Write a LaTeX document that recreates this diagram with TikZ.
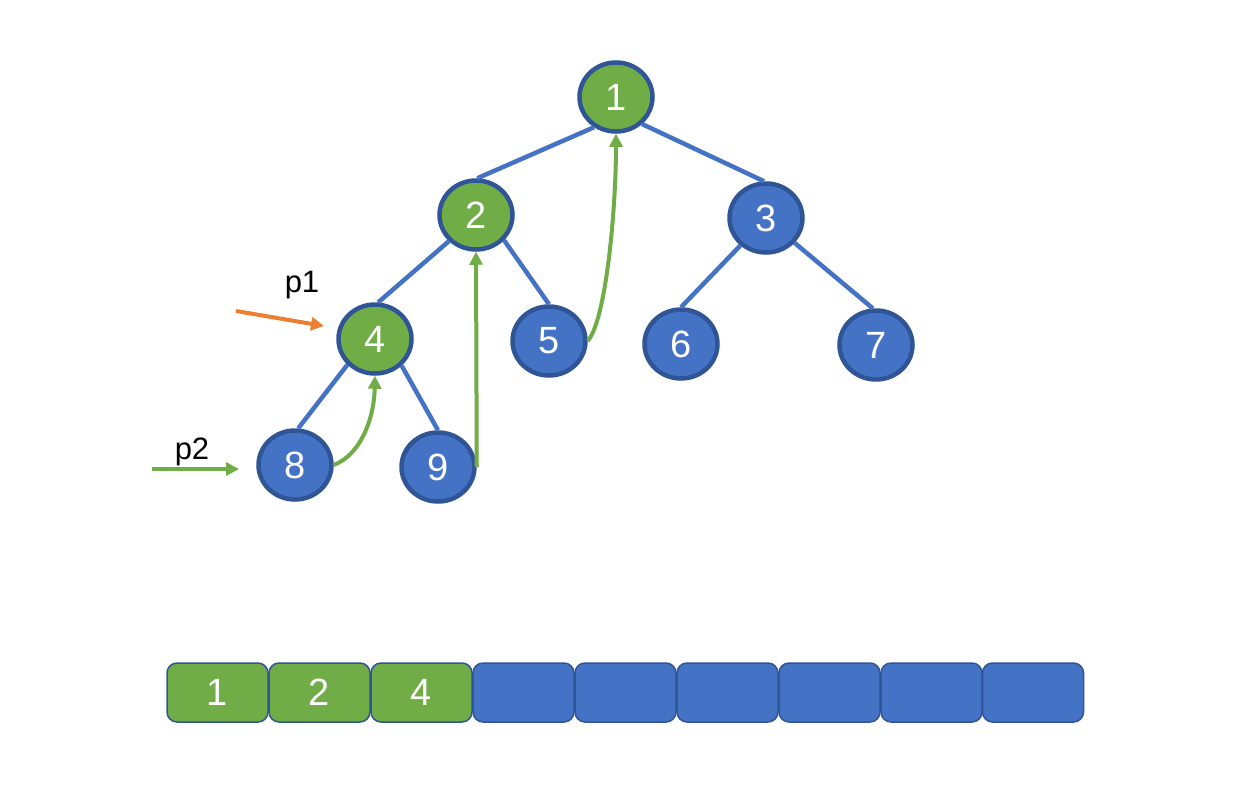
\documentclass[tikz,border=0pt]{standalone}
\usepackage{fontspec}
\setmainfont{Liberation Sans}
\usetikzlibrary{arrows.meta,shapes.geometric}
\definecolor{cgreen}{HTML}{70AD47}
\definecolor{cblue}{HTML}{4472C4}
\definecolor{cdark}{HTML}{2F5597}
\definecolor{corange}{HTML}{ED7D31}
\begin{document}
\begin{tikzpicture}[x=1pt,y=-1pt,
  tn/.style={ellipse,draw=cdark,line width=4.5pt,minimum width=73pt,minimum height=69pt,inner sep=0pt,text=white,font=\fontsize{38}{38}\selectfont},
  gn/.style={tn,fill=cgreen},
  bn/.style={tn,fill=cblue},
  edge/.style={draw=cblue,line width=4.5pt},
  garrow/.style={draw=cgreen,line width=4pt,-{Triangle[length=13pt,width=13pt]}},
  oarrow/.style={draw=corange,line width=4pt,-{Triangle[length=13pt,width=13pt]}},
  cell/.style={draw=cdark,line width=1.5pt,rounded corners=10pt,minimum width=101pt,minimum height=59pt,inner sep=0pt,text=white,font=\fontsize{38}{38}\selectfont},
  lbl/.style={font=\fontsize{31}{31}\selectfont,text=black,inner sep=0pt}]
\useasboundingbox (0,0) rectangle (1253,811);
\coordinate (c1) at (616,97);
\coordinate (c2) at (476,215);
\coordinate (c3) at (766,218);
\coordinate (c4) at (375,339);
\coordinate (c5) at (549,341);
\coordinate (c6) at (681,344);
\coordinate (c7) at (876,345);
\coordinate (c8) at (295,465);
\coordinate (c9) at (438,467);
\node[gn] (n1) at (c1) {1};
\node[gn] (n2) at (c2) {2};
\node[bn] (n3) at (c3) {3};
\node[gn] (n4) at (c4) {4};
\node[bn] (n5) at (c5) {5};
\node[bn] (n6) at (c6) {6};
\node[bn] (n7) at (c7) {7};
\node[bn] (n8) at (c8) {8};
\node[bn] (n9) at (c9) {9};
\path[edge] (n1.234) -- (n2.88);
\path[edge] (n1.314) -- (n3.93);
\path[edge] (n2.224) -- (n4.85);
\path[edge] (n2.318) -- (n5.90);
\path[edge] (n3.227) -- (n6.90);
\path[edge] (n3.319) -- (n7.95);
\path[edge] (n4.223) -- (n8.85);
\path[edge] (n4.315) -- (n9.90);
% green arrows
\draw[garrow] (n8.east) .. controls (360,455) and (374,420) .. (n4.south);
\draw[garrow] (n9.east) -- (n2.south);
\draw[garrow] (n5.east) .. controls (606,320) and (616,210) .. (n1.south);
% pointers
\coordinate (p1s) at (236,311);
\coordinate (p1e) at (324,326);
\coordinate (p2s) at (152,469);
\coordinate (p2e) at (239,469);
\draw[oarrow] (p1s) -- (p1e);
\draw[garrow] (p2s) -- (p2e);
\node[lbl] (p1) at (302,285) {p1};
\node[lbl] (p2) at (192,452) {p2};
% array
\node[cell,fill=cgreen] (b1) at (217.5,692.5) {1};
\node[cell,fill=cgreen] (b2) at (319.5,692.5) {2};
\node[cell,fill=cgreen] (b3) at (421.5,692.5) {4};
\node[cell,fill=cblue] (b4) at (523.5,692.5) {};
\node[cell,fill=cblue] (b5) at (625.5,692.5) {};
\node[cell,fill=cblue] (b6) at (727.5,692.5) {};
\node[cell,fill=cblue] (b7) at (829.5,692.5) {};
\node[cell,fill=cblue] (b8) at (931.5,692.5) {};
\node[cell,fill=cblue] (b9) at (1033,692.5) {};
\end{tikzpicture}
\end{document}
